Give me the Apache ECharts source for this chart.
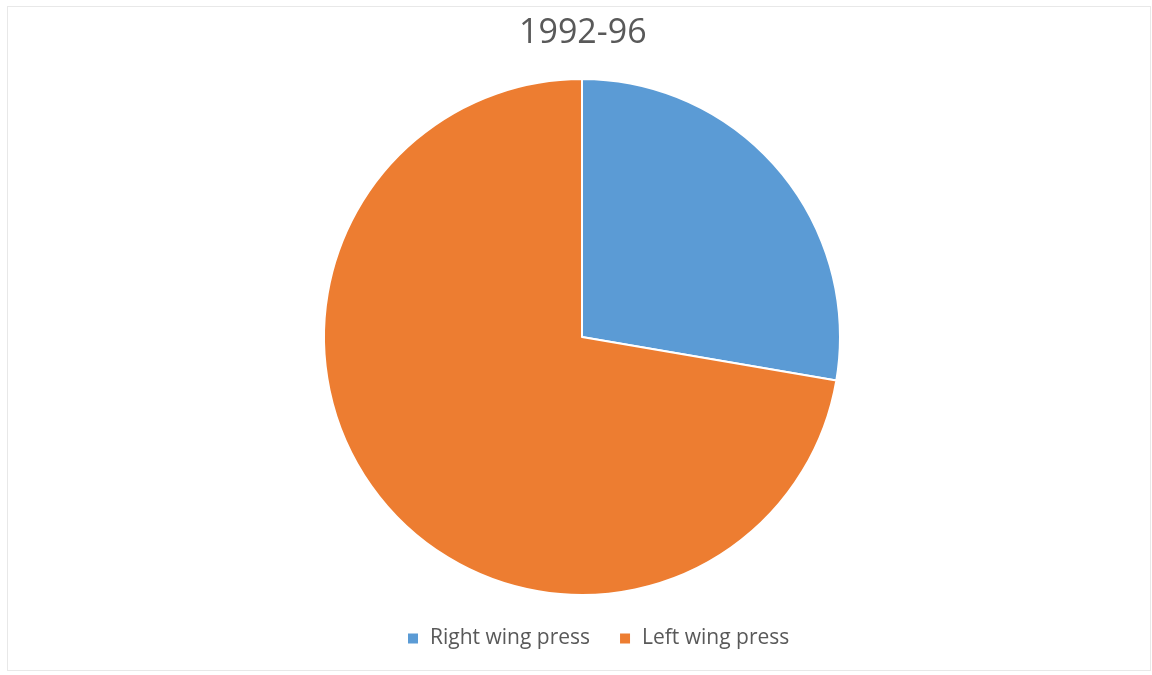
<!DOCTYPE html>
<html><head><meta charset="utf-8">
<script src="https://cdn.jsdelivr.net/npm/echarts@6/dist/echarts.min.js"></script>
<style>html,body{margin:0;padding:0;background:#fff}#c{width:1152px;height:675px}
#frame{position:absolute;left:7px;top:6px;width:1142px;height:663px;border:1px solid #e8e8e8;pointer-events:none}</style>
</head><body><div id="c"></div><div id="frame"></div>
<script>
const title = "1992-96";
const categories = ["Right wing press", "Left wing press"];
const values = [27.7, 72.3];
const colors = ["#5B9BD5", "#ED7D31"];
const chart = echarts.init(document.getElementById('c'));
chart.setOption({
  animation: false,
  title: { text: title, left: 514, top: 11, textStyle: { fontFamily: 'Open Sans', fontSize: 34, fontWeight: 'normal', color: '#595959' } },
  legend: { bottom: 21, left: 401, itemWidth: 12, itemHeight: 12, itemGap: 28, icon: 'rect',
    textStyle: { fontFamily: 'Open Sans', fontSize: 21, color: '#595959', padding: [0, 0, 0, 6] }, data: categories },
  series: [{
    type: 'pie', center: [582, 337], radius: 258, startAngle: 90, clockwise: true,
    label: { show: false }, labelLine: { show: false },
    itemStyle: { borderColor: '#fff', borderWidth: 2 },
    data: categories.map((n, i) => ({ name: n, value: values[i], itemStyle: { color: colors[i] } }))
  }]
});
</script></body></html>
